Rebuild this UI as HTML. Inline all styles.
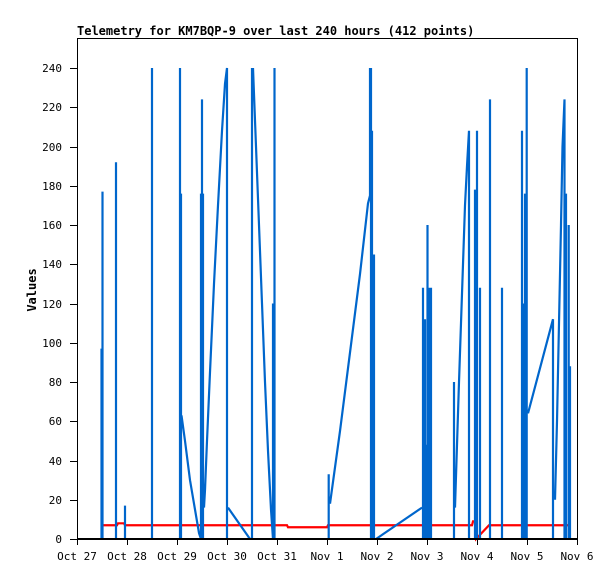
<!DOCTYPE html>
<html><head><meta charset="utf-8"><style>
html,body{margin:0;padding:0;background:#fff;}
svg{display:block;}
text{font-family:"DejaVu Sans Mono","Liberation Mono",monospace;}
</style></head><body>
<svg width="615" height="579" viewBox="0 0 615 579" xmlns="http://www.w3.org/2000/svg">
<rect width="615" height="579" fill="#fff"/>
<text x="77" y="35" font-size="12" font-weight="bold" fill="#000">Telemetry for KM7BQP-9 over last 240 hours (412 points)</text>
<path d="M77.5,38.5 H577.5 V539" fill="none" stroke="#000" stroke-width="1"/>
<line x1="77.5" y1="38" x2="77.5" y2="540" stroke="#000"/>
<g font-size="11" fill="#000" text-anchor="end">
<g stroke="#000">
<line x1="70" y1="539.5" x2="77" y2="539.5"/><line x1="70" y1="500.5" x2="77" y2="500.5"/>
<line x1="70" y1="461.5" x2="77" y2="461.5"/><line x1="70" y1="421.5" x2="77" y2="421.5"/>
<line x1="70" y1="382.5" x2="77" y2="382.5"/><line x1="70" y1="343.5" x2="77" y2="343.5"/>
<line x1="70" y1="304.5" x2="77" y2="304.5"/><line x1="70" y1="264.5" x2="77" y2="264.5"/>
<line x1="70" y1="225.5" x2="77" y2="225.5"/><line x1="70" y1="186.5" x2="77" y2="186.5"/>
<line x1="70" y1="147.5" x2="77" y2="147.5"/><line x1="70" y1="107.5" x2="77" y2="107.5"/>
<line x1="70" y1="68.5" x2="77" y2="68.5"/>
</g>
<text x="62" y="543">0</text><text x="62" y="504">20</text><text x="62" y="465">40</text>
<text x="62" y="425">60</text><text x="62" y="386">80</text><text x="62" y="347">100</text>
<text x="62" y="308">120</text><text x="62" y="268">140</text><text x="62" y="229">160</text>
<text x="62" y="190">180</text><text x="62" y="151">200</text><text x="62" y="111">220</text>
<text x="62" y="72">240</text>
</g>
<text transform="translate(36,290) rotate(-90)" font-size="12" font-weight="bold" text-anchor="middle">Values</text>
<g stroke="#000">
<line x1="77.5" y1="539" x2="77.5" y2="545"/><line x1="127.5" y1="539" x2="127.5" y2="545"/>
<line x1="177.5" y1="539" x2="177.5" y2="545"/><line x1="227.5" y1="539" x2="227.5" y2="545"/>
<line x1="277.5" y1="539" x2="277.5" y2="545"/><line x1="327.5" y1="539" x2="327.5" y2="545"/>
<line x1="377.5" y1="539" x2="377.5" y2="545"/><line x1="427.5" y1="539" x2="427.5" y2="545"/>
<line x1="477.5" y1="539" x2="477.5" y2="545"/><line x1="527.5" y1="539" x2="527.5" y2="545"/>
<line x1="577.5" y1="539" x2="577.5" y2="545"/>
</g>
<g font-size="11" text-anchor="middle" fill="#000">
<text x="77" y="560">Oct 27</text><text x="127" y="560">Oct 28</text><text x="177" y="560">Oct 29</text>
<text x="227" y="560">Oct 30</text><text x="277" y="560">Oct 31</text><text x="327" y="560">Nov 1</text>
<text x="377" y="560">Nov 2</text><text x="427" y="560">Nov 3</text><text x="477" y="560">Nov 4</text>
<text x="527" y="560">Nov 5</text><text x="577" y="560">Nov 6</text>
</g>
<g transform="translate(0,539) scale(1,-1.9625)" fill="none" stroke-linejoin="miter">
<path vector-effect="non-scaling-stroke" stroke="#ff0000" stroke-width="2.2" d="M102,7 H117 L118,8 H124 L125,7 H287 L288,6 H327 L328,7 H472 L473,9 H475 L476,0 L489,7 H568"/>
<path vector-effect="non-scaling-stroke" stroke="#0066cc" stroke-width="2.2" d="
M101.5,0 V97 M102.5,0 V177 M116,0 V192 M125,0 V17 M152,0 V240
M180,0 V240 M181,0 V176 M181.5,63 L185,50 L190,30 L195,15 L199,3 L201,0 V176 M202,0 V224 M203,0 V176 M204,16 L205,25 L207,50 L210,85 L214,130 L218,170 L222,208 L225,232 L227,240 V0
M228,16 L250,0 M252,0 V240 M253,240 L256,200 L259,160 L262,120 L265,80 L268,45 L271,15 L273,0 V120 M274.5,0 V240
M328.7,0 V33 M330,18 L340,55 L350,95 L360,135 L368,171 L370,175 V240 M371,0 V240 M372,0 V208 M374,0 V145 M376,0 L422,16
M423,0 V128 M425,0 V112 M426,0 V48 M427.5,0 V160 M429.5,0 V128 M431,0 V128
M454,0 V80 M455,16 L457,48 L459,80 L461,110 L463,140 L465,170 L467,190 L469,208 V0 M475,0 V178 M477,0 V208 M480,0 V128
M490,0 V224 M502,0 V128 M522,0 V208 M523.5,0 V120 M525,0 V176 M526.7,0 V240 M528,64 L553,112 V0 M555,20 L557,60 L559,110 L561,160 L562.5,200 L564.5,224 V0 M566,176 V0 M568.7,160 V0 M570,88 V0
"/>
<path vector-effect="non-scaling-stroke" stroke="#000" stroke-width="2" d="M77,0 H578"/>
</g>
</svg>
</body></html>
